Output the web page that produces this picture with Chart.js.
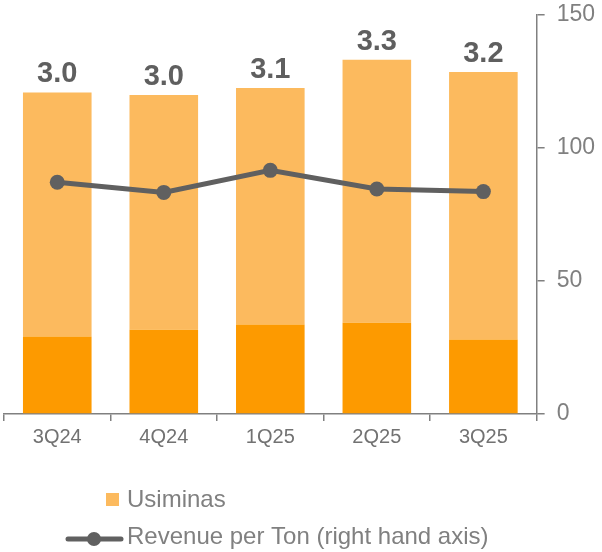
<!DOCTYPE html>
<html>
<head>
<meta charset="utf-8">
<script src="https://cdn.jsdelivr.net/npm/chart.js@4/dist/chart.umd.min.js"></script>
<style>
  html, body { margin: 0; padding: 0; background: #ffffff; }
  #wrap { width: 602px; height: 552px; position: relative; }
</style>
</head>
<body>
<div id="wrap"><canvas id="c" width="602" height="552"></canvas></div>
<script>
const categories = ['3Q24', '4Q24', '1Q25', '2Q25', '3Q25'];
const lowerSegment = [29.1, 31.7, 33.6, 34.3, 28.0];
const usiminas = [91.8, 88.2, 89.0, 98.9, 100.6];
const revenuePerTon = [87.1, 83.3, 91.6, 84.6, 83.6];
const volumeLabels = ['3.0', '3.0', '3.1', '3.3', '3.2'];
const yTicks = [0, 50, 100, 150];

const DARK = '#FD9A00';
const LIGHT = '#FCBA5E';
const LINE = '#606060';
const AXIS = '#808080';
const FONT = '"Liberation Sans", Arial, sans-serif';

const topLabels = {
  id: 'topLabels',
  afterDatasetsDraw(chart) {
    const meta = chart.getDatasetMeta(1);
    const ctx = chart.ctx;
    ctx.save();
    ctx.font = 'bold 29px ' + FONT;
    ctx.fillStyle = '#5f5f5f';
    ctx.textAlign = 'center';
    ctx.textBaseline = 'alphabetic';
    meta.data.forEach((bar, i) => {
      ctx.fillText(volumeLabels[i], bar.x, bar.y - 10);
    });
    ctx.restore();
  }
};

const customLegend = {
  id: 'customLegend',
  afterDraw(chart) {
    const ctx = chart.ctx;
    ctx.save();
    ctx.font = '24px ' + FONT;
    ctx.textBaseline = 'middle';
    ctx.textAlign = 'left';
    // Usiminas
    ctx.fillStyle = chart.data.datasets[1].backgroundColor;
    ctx.fillRect(106, 493, 13, 13);
    ctx.fillStyle = AXIS;
    ctx.fillText(chart.data.datasets[1].label, 127, 500);
    // Revenue per ton
    const ds = chart.data.datasets[2];
    ctx.strokeStyle = ds.borderColor;
    ctx.lineWidth = 5;
    ctx.lineCap = 'round';
    ctx.beginPath();
    ctx.moveTo(68, 539);
    ctx.lineTo(121, 539);
    ctx.stroke();
    ctx.fillStyle = ds.borderColor;
    ctx.beginPath();
    ctx.arc(94, 539, 7, 0, Math.PI * 2);
    ctx.fill();
    ctx.fillStyle = AXIS;
    ctx.fillText(ds.label, 127, 537);
    ctx.restore();
  }
};

new Chart(document.getElementById('c'), {
  type: 'bar',
  data: {
    labels: categories,
    datasets: [
      {
        label: 'Usiminas (lower)',
        data: lowerSegment,
        backgroundColor: DARK,
        stack: 's',
        order: 1,
        barPercentage: 0.644,
        categoryPercentage: 1.0
      },
      {
        label: 'Usiminas',
        data: usiminas,
        backgroundColor: LIGHT,
        stack: 's',
        order: 1,
        barPercentage: 0.644,
        categoryPercentage: 1.0
      },
      {
        type: 'line',
        label: 'Revenue per Ton (right hand axis)',
        data: revenuePerTon,
        borderColor: LINE,
        backgroundColor: LINE,
        borderWidth: 5,
        pointRadius: 7.5,
        pointBackgroundColor: LINE,
        pointBorderWidth: 0,
        tension: 0,
        order: 0
      }
    ]
  },
  options: {
    responsive: false,
    animation: false,
    devicePixelRatio: 1,
    layout: { autoPadding: false, padding: { left: 4, right: -5, top: 15, bottom: 99 } },
    plugins: {
      legend: { display: false },
      tooltip: { enabled: false }
    },
    scales: {
      x: {
        stacked: true,
        offset: true,
        afterFit(scale) {
          scale.paddingLeft = 0;
          scale.paddingRight = 0;
        },
        grid: {
          display: true,
          offset: true,
          drawOnChartArea: false,
          drawTicks: true,
          tickLength: 7,
          color: AXIS,
          lineWidth: 1.5
        },
        border: { display: true, color: AXIS, width: 1.5 },
        ticks: {
          color: '#727272',
          font: { family: FONT, size: 20 },
          padding: 4
        }
      },
      y: {
        position: 'right',
        stacked: true,
        min: 0,
        max: 150,
        afterBuildTicks(scale) {
          scale.ticks = yTicks.map(v => ({ value: v }));
        },
        afterFit(scale) {
          scale.paddingTop = 0;
          scale.paddingBottom = 0;
        },
        grid: {
          display: true,
          drawOnChartArea: false,
          drawTicks: true,
          tickLength: 8,
          color: AXIS,
          lineWidth: 1.5
        },
        border: { display: true, color: AXIS, width: 1.5 },
        ticks: {
          color: AXIS,
          font: { family: FONT, size: 23 },
          padding: 12
        }
      }
    }
  },
  plugins: [topLabels, customLegend]
});
</script>
</body>
</html>
